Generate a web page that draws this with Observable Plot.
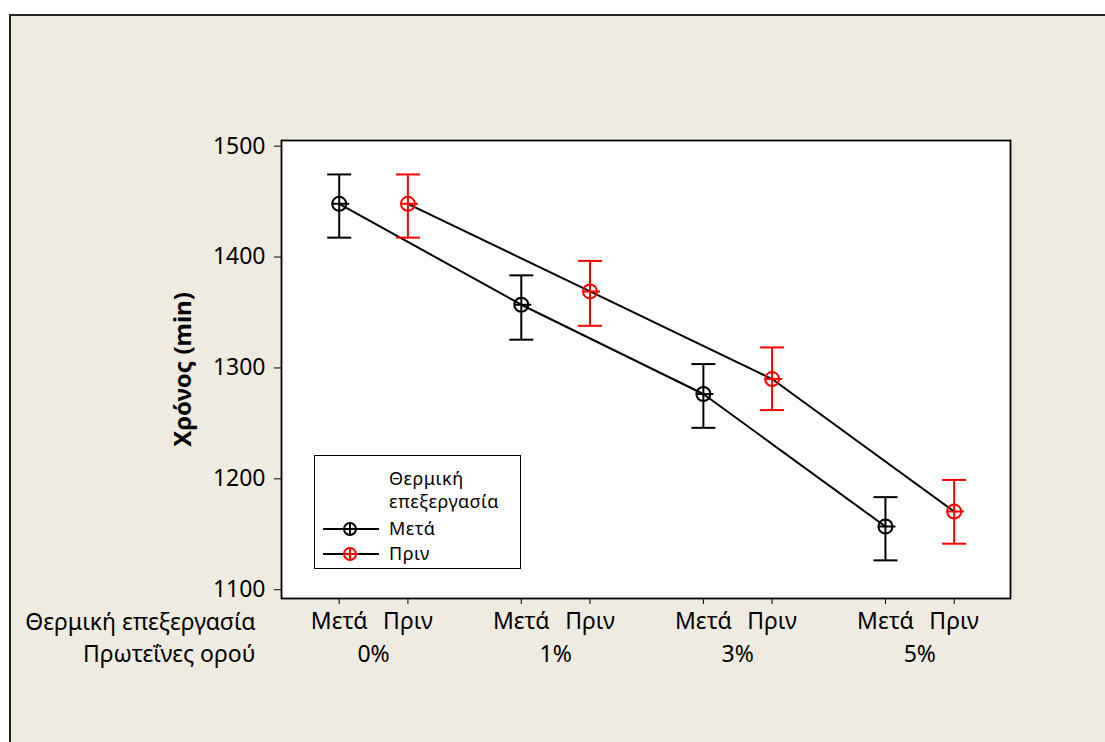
<!DOCTYPE html>
<html>
<head>
<meta charset="utf-8">
<script src="https://cdn.jsdelivr.net/npm/d3@7"></script>
<script src="https://cdn.jsdelivr.net/npm/@observablehq/plot@0.6"></script>
<style>
  html, body { margin: 0; padding: 0; background: #ffffff; }
  #wrap { position: relative; width: 1105px; height: 742px; overflow: hidden; font-family: "Noto Sans", sans-serif; }
  #bg { position: absolute; left: 9px; top: 14px; width: 1200px; height: 800px; background: #EFEBE1; border: 2px solid #222; box-sizing: border-box; }
  #chart { position: absolute; left: 0; top: 0; }
  #legend { position: absolute; left: 314px; top: 455px; width: 207px; height: 114px; background: #fff; border: 1.5px solid #000; box-sizing: border-box; }
  #legend .t { position: absolute; font-size: 18px; letter-spacing: 0.5px; color: #000; line-height: 1; white-space: nowrap; }
  #legend svg { position: absolute; left: 0; top: 0; }
</style>
</head>
<body>
<div id="wrap">
  <div id="bg"></div>
  <div id="chart"></div>
  <div id="legend"></div>
</div>
<script>
// ---- data ----
const groups = ["0%", "1%", "3%", "5%"];
const series = ["Μετά", "Πριν"];
const metaMean = [1448, 1357, 1276.5, 1157];
const metaLow  = [1417.5, 1325.5, 1246, 1126.5];
const metaHigh = [1474.5, 1383.5, 1303.5, 1183.5];
const prinMean = [1448, 1369, 1290, 1170.5];
const prinLow  = [1417.5, 1338, 1262, 1141.5];
const prinHigh = [1474.5, 1396.5, 1318.5, 1199];
const yTicks = [1100, 1200, 1300, 1400, 1500];
const factor1 = "Θερμική επεξεργασία";
const factor2 = "Πρωτεΐνες ορού";
const yLabel = "Χρόνος (min)";
const legendTitle = ["Θερμική", "επεξεργασία"];

const colors = ["#000000", "#ff0000"];
const GROUP_STEP = 2.65;

const means = [metaMean, prinMean];
const lows = [metaLow, prinLow];
const highs = [metaHigh, prinHigh];

const rows = [];
groups.forEach((g, gi) => {
  series.forEach((s, si) => {
    rows.push({group: g, series: s, pos: gi * GROUP_STEP + si,
      mean: means[si][gi], low: lows[si][gi], high: highs[si][gi]});
  });
});
const tickPos = rows.map(d => d.pos);
const tickName = new Map(rows.map(d => [d.pos, d.series]));
const groupRows = groups.map((g, gi) => ({group: g, pos: gi * GROUP_STEP + 0.5}));

const capSymbol = {draw(ctx) { const w = 12; ctx.moveTo(-w, 0); ctx.lineTo(w, 0); }};
const markerSymbol = {draw(ctx) {
  const r = 7; ctx.moveTo(r, 0); ctx.arc(0, 0, r, 0, 2 * Math.PI);
  ctx.moveTo(-r, 0); ctx.lineTo(r + 3, 0);
}};

const FS = 23;
const chart = Plot.plot({
  width: 1105,
  height: 742,
  marginLeft: 281,
  marginRight: 95,
  marginTop: 140,
  marginBottom: 144,
  style: {background: "transparent", fontFamily: "'Noto Sans', sans-serif", color: "#000"},
  x: {type: "linear", domain: [-0.84, 9.77]},
  y: {domain: [1092.1, 1505.1]},
  color: {domain: series, range: colors},
  marks: [
    Plot.frame({fill: "white", stroke: "black", strokeWidth: 1.8}),
    Plot.axisY({ticks: yTicks, tickSize: 7, tickPadding: 9, fontSize: FS, label: null, tickFormat: d => String(d)}),
    Plot.axisX({ticks: tickPos, tickSize: 6, tickPadding: 8, fontSize: FS, label: null, tickFormat: d => tickName.get(d)}),
    Plot.text(groupRows, {x: "pos", text: "group", frameAnchor: "bottom", dy: 56, fontSize: FS, lineAnchor: "middle"}),
    Plot.text([factor1], {frameAnchor: "bottom-left", dx: -26, dy: 24, textAnchor: "end", lineAnchor: "middle", fontSize: FS}),
    Plot.text([factor2], {frameAnchor: "bottom-left", dx: -26, dy: 56, textAnchor: "end", lineAnchor: "middle", fontSize: FS}),
    Plot.text([yLabel], {frameAnchor: "left", dx: -98, rotate: -90, textAnchor: "middle", fontWeight: "bold", fontSize: 24, lineAnchor: "middle"}),
    Plot.line(rows, {x: "pos", y: "mean", z: "series", stroke: "black", strokeWidth: 2}),
    Plot.ruleX(rows, {x: "pos", y1: "low", y2: "high", stroke: "series", strokeWidth: 2}),
    Plot.dot(rows, {x: "pos", y: "low", symbol: capSymbol, fill: "none", stroke: "series", strokeWidth: 2}),
    Plot.dot(rows, {x: "pos", y: "high", symbol: capSymbol, fill: "none", stroke: "series", strokeWidth: 2}),
    Plot.dot(rows, {x: "pos", y: "mean", symbol: markerSymbol, fill: "none", stroke: "series", strokeWidth: 2})
  ]
});
document.getElementById("chart").appendChild(chart);

// ---- legend ----
const leg = document.getElementById("legend");
const addText = (txt, left, top) => {
  const el = document.createElement("div");
  el.className = "t"; el.textContent = txt;
  el.style.left = left + "px"; el.style.top = top + "px";
  leg.appendChild(el);
};
addText(legendTitle[0], 74, 13);
addText(legendTitle[1], 74, 36);
const lsvg = d3.create("svg").attr("width", 205).attr("height", 112);
series.forEach((s, i) => {
  const cy = 73 + i * 25;
  lsvg.append("line").attr("x1", 8).attr("x2", 64).attr("y1", cy).attr("y2", cy)
    .attr("stroke", "black").attr("stroke-width", 2);
  lsvg.append("circle").attr("cx", 35).attr("cy", cy).attr("r", 6)
    .attr("fill", "none").attr("stroke", colors[i]).attr("stroke-width", 2);
  lsvg.append("line").attr("x1", 35).attr("x2", 35).attr("y1", cy - 6).attr("y2", cy + 6)
    .attr("stroke", colors[i]).attr("stroke-width", 2);
  lsvg.append("line").attr("x1", 29).attr("x2", 43).attr("y1", cy).attr("y2", cy)
    .attr("stroke", colors[i]).attr("stroke-width", 2);
  addText(s, 74, cy - 10);
});
leg.appendChild(lsvg.node());
</script>
</body>
</html>
